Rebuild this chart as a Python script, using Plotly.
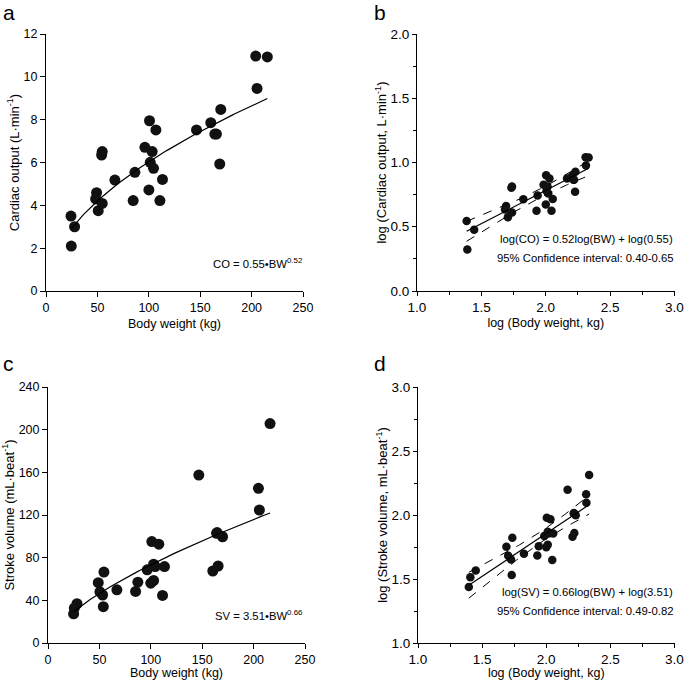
import numpy as np
import plotly.graph_objects as go

# ---- data ----
bw_co = [24.3, 24.6, 27.8, 48.3, 49.2, 50.8, 54.1, 54.7, 54.7, 67.0,
         84.8, 86.5, 96.2, 100.1, 100.7, 101.4, 103.3, 104.6, 106.9, 110.8,
         113.3, 146.4, 160.3, 164.2, 165.8, 169.0, 170.0, 204.0, 205.3, 215.3]
co = [3.50, 2.10, 3.00, 4.30, 4.59, 3.75, 6.35, 6.51, 4.09, 5.18,
      4.22, 5.54, 6.71, 4.72, 7.95, 6.01, 6.51, 5.73, 7.52, 4.22,
      5.21, 7.52, 7.86, 7.33, 7.33, 5.93, 8.48, 10.97, 9.46, 10.93]

bw_sv = [24.9, 25.6, 28.2, 48.9, 50.5, 53.1, 54.4, 53.8, 67.0, 85.2,
         87.4, 96.5, 100.0, 101.0, 102.7, 102.7, 104.3, 107.8, 111.4, 113.3,
         146.7, 160.3, 164.0, 165.5, 169.8, 204.7, 205.6, 216.0, 103.5, 164.5]
sv = [27.4, 32.7, 36.8, 56.5, 48.0, 45.0, 66.5, 34.0, 49.9, 48.3,
      57.0, 68.6, 56.1, 95.1, 73.9, 58.6, 71.7, 92.6, 44.6, 71.7,
      157.4, 67.5, 102.8, 72.2, 99.6, 145.0, 124.7, 205.7, 72.5, 103.5]

co_coef, co_exp = 0.55, 0.52
sv_coef, sv_exp = 3.51, 0.66
t_crit = 2.048  # t(0.975, df=28)

FONT = "Liberation Sans, Arial, Helvetica, sans-serif"
BLACK = "#000000"
DOT = "#111111"

fig = go.Figure()


def power_curve(bw, a, b):
    x = np.linspace(min(bw), max(bw), 120)
    return x, a * x ** b


def log_fit(bw, y):
    lx = np.log10(np.array(bw))
    ly = np.log10(np.array(y))
    n = len(lx)
    slope, icpt = np.polyfit(lx, ly, 1)
    res = ly - (slope * lx + icpt)
    s = np.sqrt(np.sum(res ** 2) / (n - 2))
    xm = lx.mean()
    sxx = np.sum((lx - xm) ** 2)
    xx = np.linspace(lx.min(), lx.max(), 100)
    yy = slope * xx + icpt
    half = t_crit * s * np.sqrt(1.0 / n + (xx - xm) ** 2 / sxx)
    return lx, ly, xx, yy, yy - half, yy + half


# panel a
fig.add_trace(go.Scatter(x=bw_co, y=co, mode="markers", xaxis="x", yaxis="y",
                         marker=dict(color=DOT, size=11), showlegend=False))
cx, cy = power_curve(bw_co, co_coef, co_exp)
fig.add_trace(go.Scatter(x=cx, y=cy, mode="lines", xaxis="x", yaxis="y",
                         line=dict(color=BLACK, width=1.2), showlegend=False))

# panel b
lx, ly, xx, yy, lo, hi = log_fit(bw_co, co)
fig.add_trace(go.Scatter(x=lx, y=ly, mode="markers", xaxis="x2", yaxis="y2",
                         marker=dict(color=DOT, size=8.5), showlegend=False))
fig.add_trace(go.Scatter(x=xx, y=yy, mode="lines", xaxis="x2", yaxis="y2",
                         line=dict(color=BLACK, width=1.2), showlegend=False))
for band in (lo, hi):
    fig.add_trace(go.Scatter(x=xx, y=band, mode="lines", xaxis="x2", yaxis="y2",
                             line=dict(color=BLACK, width=1, dash="dash"), showlegend=False))

# panel c
fig.add_trace(go.Scatter(x=bw_sv, y=sv, mode="markers", xaxis="x3", yaxis="y3",
                         marker=dict(color=DOT, size=11), showlegend=False))
sx, sy = power_curve(bw_sv, sv_coef, sv_exp)
fig.add_trace(go.Scatter(x=sx, y=sy, mode="lines", xaxis="x3", yaxis="y3",
                         line=dict(color=BLACK, width=1.2), showlegend=False))

# panel d
lx, ly, xx, yy, lo, hi = log_fit(bw_sv, sv)
fig.add_trace(go.Scatter(x=lx, y=ly, mode="markers", xaxis="x4", yaxis="y4",
                         marker=dict(color=DOT, size=8.5), showlegend=False))
fig.add_trace(go.Scatter(x=xx, y=yy, mode="lines", xaxis="x4", yaxis="y4",
                         line=dict(color=BLACK, width=1.2), showlegend=False))
for band in (lo, hi):
    fig.add_trace(go.Scatter(x=xx, y=band, mode="lines", xaxis="x4", yaxis="y4",
                             line=dict(color=BLACK, width=1, dash="dash"), showlegend=False))

W, H = 685, 680


def px_x(p):
    return p / W


def px_y(p):
    return 1 - p / H


def axis(domain, rng, dtick, title, anchor, standoff, tsize=12.5, ttl=12.5,
         ticklen=5, minor=None, fmt=None):
    d = dict(domain=domain, range=rng, dtick=dtick, tick0=rng[0], anchor=anchor,
             showline=True, linecolor=BLACK, linewidth=1, mirror=False,
             ticks="outside", ticklen=ticklen, tickwidth=1, tickcolor=BLACK,
             showgrid=False, zeroline=False, automargin=False,
             tickfont=dict(family=FONT, size=tsize, color=BLACK),
             title=dict(text=title, font=dict(family=FONT, size=ttl, color=BLACK),
                        standoff=standoff))
    if minor:
        d["minor"] = dict(dtick=minor, ticks="outside", ticklen=3, tickwidth=1,
                          tickcolor=BLACK, showgrid=False)
    if fmt:
        d["tickformat"] = fmt
    return d


top_dom = [px_y(291), px_y(34)]
bot_dom = [px_y(643), px_y(387)]

fig.update_layout(
    width=W, height=H,
    margin=dict(l=0, r=0, t=0, b=0),
    paper_bgcolor="white", plot_bgcolor="white",
    font=dict(family=FONT, color=BLACK),
    xaxis=axis([px_x(46), px_x(303)], [0, 250], 50, "Body weight (kg)", "y", 5),
    yaxis=axis(top_dom, [0, 12], 2, "Cardiac output (L·min<sup>-1</sup>)", "x", 1, ttl=13),
    xaxis2=axis([px_x(417), px_x(674.5)], [1, 3], 0.5, "log (Body weight, kg)", "y2", 4,
                tsize=13.5, ticklen=4, minor=0.25, fmt=".1f"),
    yaxis2=axis(top_dom, [0, 2], 0.5, "log (Cardiac output, L·min<sup>-1</sup>)", "x2", 0,
                tsize=13.5, ttl=13, ticklen=4, minor=0.25, fmt=".1f"),
    xaxis3=axis([px_x(48), px_x(305)], [0, 250], 50, "Body weight (kg)", "y3", 4),
    yaxis3=axis(bot_dom, [0, 240], 40, "Stroke volume (mL·beat<sup>-1</sup>)", "x3", 1, ttl=13),
    xaxis4=axis([px_x(418), px_x(674.5)], [1, 3], 0.5, "log (Body weight, kg)", "y4", 4,
                tsize=13.5, ticklen=4, minor=0.25, fmt=".1f"),
    yaxis4=axis(bot_dom, [1, 3], 0.5, "log (Stroke volume, mL·beat<sup>-1</sup>)", "x4", 0,
                tsize=13.5, ttl=13, ticklen=4, minor=0.25, fmt=".1f"),
)

ann = []


def txt(x, y, s, size=11.3, xanchor="right"):
    ann.append(dict(x=px_x(x), y=px_y(y), xref="paper", yref="paper", text=s,
                    showarrow=False, xanchor=xanchor, yanchor="middle",
                    font=dict(family=FONT, size=size, color=BLACK)))


txt(304, 263, "CO = 0.55•BW<sup>0.52</sup>")
txt(675, 239, "log(CO) = 0.52log(BW) + log(0.55)")
txt(675, 258, "95% Confidence interval: 0.40-0.65")
txt(305, 615, "SV = 3.51•BW<sup>0.66</sup>")
txt(675, 592, "log(SV) = 0.66log(BW) + log(3.51)")
txt(675, 611, "95% Confidence interval: 0.49-0.82")

txt(1, 12.5, "a", size=21, xanchor="left")
txt(372, 12.5, "b", size=21, xanchor="left")
txt(1, 363.5, "c", size=21, xanchor="left")
txt(372, 363.5, "d", size=21, xanchor="left")

fig.update_layout(annotations=ann)
fig.write_html("out.html", config={"displayModeBar": False},
               post_script="document.body.style.margin='0';document.body.style.padding='0';")
